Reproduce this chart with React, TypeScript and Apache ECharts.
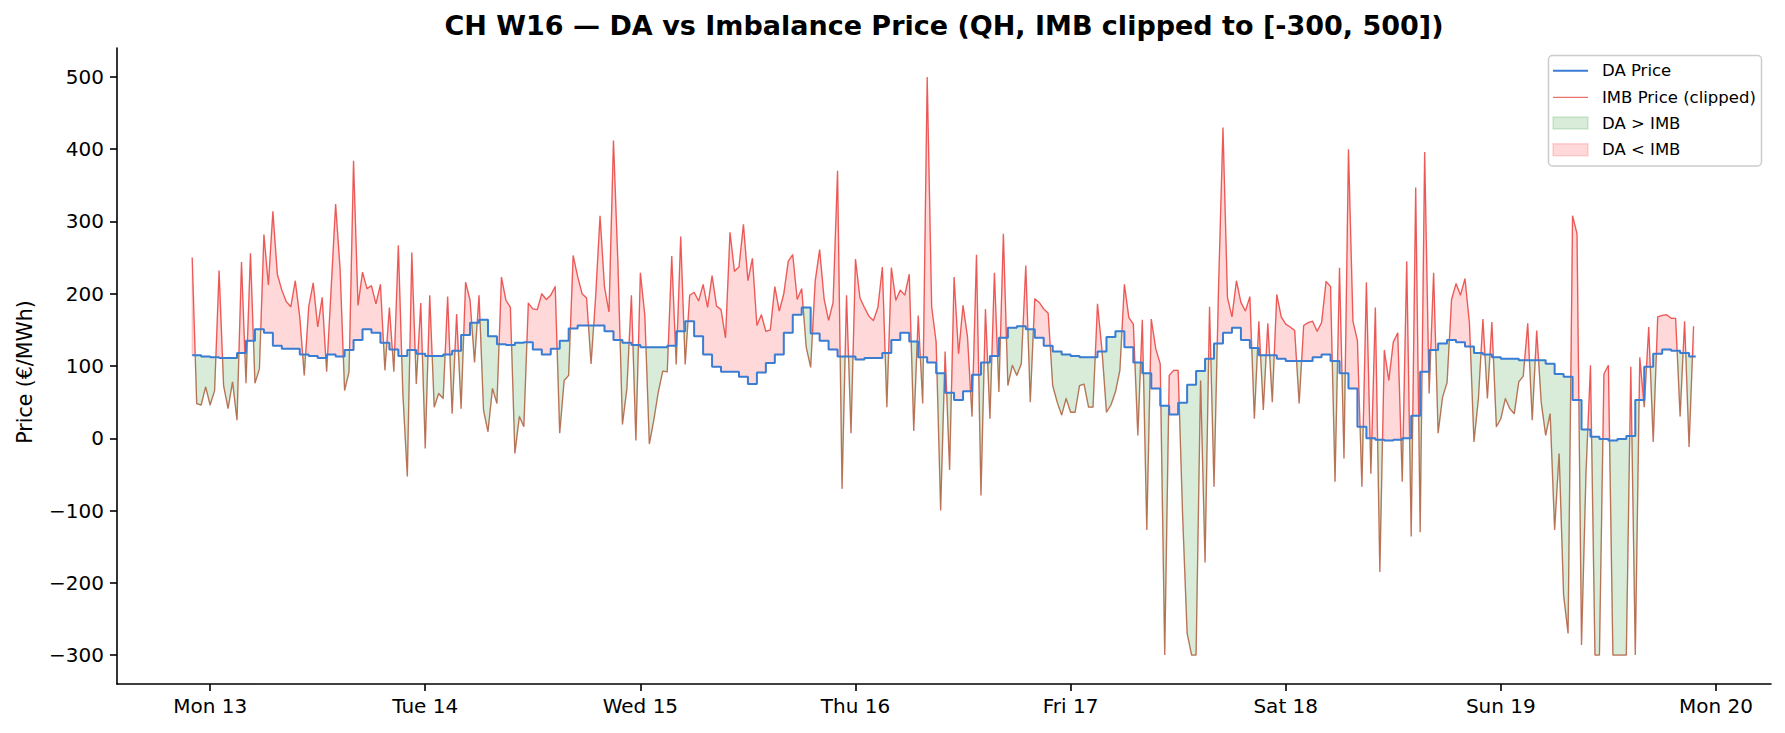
import React, { useEffect, useRef } from "react";
import * as echarts from "echarts";

const TITLE = "CH W16 — DA vs Imbalance Price (QH, IMB clipped to [-300, 500])";
const Y_LABEL = "Price (€/MWh)";
const X_TICK_HOURS = [0, 24, 48, 72, 96, 120, 144, 168];
const X_TICK_LABELS = ["Mon 13", "Tue 14", "Wed 15", "Thu 16", "Fri 17", "Sat 18", "Sun 19", "Mon 20"];
const Y_TICKS = [-300, -200, -100, 0, 100, 200, 300, 400, 500];
const LEGEND_LABELS = ["DA Price", "IMB Price (clipped)", "DA > IMB", "DA < IMB"];

// hours counted from Mon 13 00:00
const DA_START_H = -2;
const DA_END_H = 165.75;
// hourly day-ahead price, €/MWh
const DA_PRE = [115, 113];
const DA_MON = [112, 111, 111, 118, 135, 151, 146, 128, 124, 124, 116, 114, 111, 116, 113, 122, 136, 151, 146, 132, 123, 114, 122, 117];
const DA_TUE = [114, 114, 116, 121, 143, 160, 164, 141, 130, 129, 132, 133, 123, 116, 124, 135, 152, 156, 156, 156, 148, 136, 132, 129];
const DA_WED = [126, 126, 126, 128, 148, 162, 141, 116, 99, 92, 92, 85, 75, 91, 104, 116, 146, 171, 181, 145, 135, 123, 113, 113];
const DA_THU = [109, 111, 111, 118, 136, 146, 134, 112, 105, 90, 63, 53, 65, 88, 105, 114, 139, 153, 155, 151, 139, 128, 120, 116];
const DA_FRI = [114, 112, 112, 120, 140, 148, 126, 105, 90, 69, 45, 33, 49, 74, 93, 110, 131, 146, 153, 136, 125, 115, 115, 110];
const DA_SAT = [107, 107, 107, 112, 116, 107, 90, 69, 16, 0, -2, -3, -2, 0, 31, 92, 122, 131, 136, 133, 127, 118, 116, 112];
const DA_SUN = [110, 110, 108, 108, 108, 103, 89, 85, 53, 12, 2, -1, -3, -1, 3, 53, 99, 117, 123, 121, 118, 113];

// half-hourly imbalance price (clipped), €/MWh
const IMB_START_H = -2;
const IMB_STEP_H = 0.5;
const IMB_PRE = [250, 48, 46, 71];
const IMB_MON = [46, 66, 232, 73, 41, 78, 25, 244, 76, 256, 76, 96, 282, 212, 314, 227, 205, 189, 182, 218, 168, 87, 182, 215,
  154, 195, 92, 207, 324, 234, 66, 92, 384, 184, 230, 207, 211, 186, 213, 94, 181, 92, 267, 62, -53, 257, 75, 187];
const IMB_TUE = [-14, 198, 43, 62, 55, 196, 34, 172, 41, 216, 191, 105, 198, 39, 9, 69, 48, 223, 191, 181, -21, 30, 16, 187,
  179, 178, 200, 192, 198, 210, 7, 80, 87, 253, 224, 200, 194, 103, 194, 308, 209, 175, 412, 241, 19, 69, 198, -3];
const IMB_WED = [229, 170, -8, 25, 64, 93, 92, 252, 102, 279, 102, 198, 202, 190, 213, 181, 225, 183, 178, 139, 285, 231, 237, 296,
  218, 249, 156, 171, 148, 150, 210, 176, 200, 245, 254, 192, 207, 126, 98, 217, 261, 193, 163, 188, 370, -70, 198, 7];
const IMB_THU = [248, 194, 181, 169, 163, 181, 237, 43, 236, 191, 205, 198, 227, 10, 170, 48, 500, 182, 133, -100, 120, -44, 223, 117,
  184, 140, 30, 254, -79, 179, 27, 229, 64, 283, 73, 101, 87, 103, 239, 50, 193, 188, 179, 173, 73, 50, 32, 55];
const IMB_FRI = [36, 36, 73, 75, 43, 43, 186, 122, 36, 46, 64, 94, 213, 167, 158, 4, 164, -127, 165, 124, 103, -300, 87, 94,
  94, -109, -270, -300, -300, 80, -172, 182, -67, 207, 430, 195, 168, 218, 188, 176, 196, 27, 162, 39, 159, 50, 199, 168];
const IMB_SAT = [158, 154, 149, 48, 156, 160, 162, 148, 160, 217, 210, -60, 236, -28, 400, 162, 135, -67, 216, -49, 181, -185, 122, 80,
  133, 146, -60, 245, -136, 347, -130, 396, 62, 229, 7, 57, 77, 192, 214, 198, 221, 159, -5, 55, 165, 55, 161, 16];
const IMB_SUN = [27, 55, 41, 34, 78, 86, 159, 25, 149, 50, 4, 34, -127, -21, -217, -270, 308, 283, -286, -48, 101, -300, -300, 89,
  101, -300, -300, -300, -300, 99, -300, 112, 43, 154, -5, 168, 170, 171, 166, 166, 30, 162, -12, 155];

const DA_HOURLY = [...DA_PRE, ...DA_MON, ...DA_TUE, ...DA_WED, ...DA_THU, ...DA_FRI, ...DA_SAT, ...DA_SUN];
const IMB_HALFHOURLY = [...IMB_PRE, ...IMB_MON, ...IMB_TUE, ...IMB_WED, ...IMB_THU, ...IMB_FRI, ...IMB_SAT, ...IMB_SUN];

const X_MIN = -10.39;
const X_MAX = 174.14;
const Y_MIN = -340;
const Y_MAX = 540;

const DA_COLOR = "#3a7dd4";
const IMB_COLOR = "#e8726e";
const GREEN_FILL = "rgba(0,128,0,0.15)";
const RED_FILL = "rgba(255,0,0,0.15)";
const FONT = "DejaVu Sans";

type Sample = { t: number; da: number; imb: number };

function fillSamples(): Sample[] {
  const s: Sample[] = [];
  IMB_HALFHOURLY.forEach((imb, i) => {
    const t = IMB_START_H + i * IMB_STEP_H;
    const h = Math.floor(t);
    const idx = h - DA_START_H;
    if (i > 0 && t === h && idx > 0) s.push({ t, da: DA_HOURLY[idx - 1], imb });
    s.push({ t, da: DA_HOURLY[idx], imb });
  });
  return s;
}

function regions(samples: Sample[], sign: number): number[][][] {
  const polys: number[][][] = [];
  let upper: number[][] = [];
  let lower: number[][] = [];
  const d = (k: number) => (samples[k].da - samples[k].imb) * sign;
  const cross = (a: number, b: number) => {
    const va = d(a);
    const vb = d(b);
    const f = va / (va - vb);
    const A = samples[a];
    const B = samples[b];
    return [A.t + f * (B.t - A.t), A.da + f * (B.da - A.da)];
  };
  for (let k = 0; k < samples.length; k++) {
    const v = d(k);
    const S = samples[k];
    if (v > 0) {
      if (!upper.length && k > 0) {
        const c = cross(k - 1, k);
        upper.push(c);
        lower.push(c);
      }
      upper.push([S.t, sign > 0 ? S.da : S.imb]);
      lower.push([S.t, sign > 0 ? S.imb : S.da]);
    } else if (upper.length) {
      const c = cross(k - 1, k);
      upper.push(c);
      lower.push(c);
      polys.push(upper.concat(lower.reverse()));
      upper = [];
      lower = [];
    }
  }
  if (upper.length) polys.push(upper.concat(lower.reverse()));
  return polys;
}

function fmtY(v: number) {
  return v < 0 ? "\u2212" + Math.abs(v) : String(v);
}

function buildOption(): any {
  const daPairs = DA_HOURLY.map((v, i) => [DA_START_H + i, v]);
  daPairs.push([DA_END_H, DA_HOURLY[DA_HOURLY.length - 1]]);
  const imbPairs = IMB_HALFHOURLY.map((v, i) => [IMB_START_H + i * IMB_STEP_H, v]);
  const samples = fillSamples();
  const greenPolys = regions(samples, 1);
  const redPolys = regions(samples, -1);

  const legendRows = [70.7, 97.3, 123, 149.7];
  const hx1 = 1553;
  const hx2 = 1588;
  const tx = 1602;

  return {
    animation: false,
    backgroundColor: "#ffffff",
    grid: { left: 117, right: 14, top: 48, bottom: 49 },
    xAxis: {
      type: "value",
      min: X_MIN,
      max: X_MAX,
      axisLine: { show: true, onZero: false, lineStyle: { color: "#000", width: 1.6 } },
      axisTick: { show: true, customValues: X_TICK_HOURS, length: 7, lineStyle: { color: "#000", width: 1.6 } },
      axisLabel: {
        customValues: X_TICK_HOURS,
        formatter: (v: number) => X_TICK_LABELS[X_TICK_HOURS.indexOf(Math.round(v))] ?? "",
        margin: 12,
        fontSize: 20,
        fontFamily: FONT,
        color: "#000",
      },
      splitLine: { show: false },
    },
    yAxis: {
      type: "value",
      min: Y_MIN,
      max: Y_MAX,
      axisLine: { show: true, onZero: false, lineStyle: { color: "#000", width: 1.6 } },
      axisTick: { show: true, customValues: Y_TICKS, length: 7, lineStyle: { color: "#000", width: 1.6 } },
      axisLabel: {
        customValues: Y_TICKS,
        formatter: (v: number) => fmtY(v),
        margin: 13,
        fontSize: 20,
        fontFamily: FONT,
        color: "#000",
      },
      splitLine: { show: false },
    },
    series: [
      {
        name: "IMB Price (clipped)",
        type: "line",
        data: imbPairs,
        showSymbol: false,
        symbol: "none",
        lineStyle: { color: IMB_COLOR, width: 1.3 },
        z: 2,
        silent: true,
      },
      {
        name: "fill",
        type: "custom",
        silent: true,
        z: 3,
        data: [[IMB_START_H, DA_HOURLY[0]]],
        renderItem: (_params: any, api: any) => {
          const children: any[] = [];
          const add = (polys: number[][][], color: string) => {
            polys.forEach((poly) => {
              children.push({
                type: "polygon",
                shape: { points: poly.map((p) => api.coord(p)) },
                style: { fill: color, stroke: color, lineWidth: 1.5 },
              });
            });
          };
          add(greenPolys, GREEN_FILL);
          add(redPolys, RED_FILL);
          return { type: "group", children };
        },
      },
      {
        name: "DA Price",
        type: "line",
        step: "end",
        data: daPairs,
        showSymbol: false,
        symbol: "none",
        lineStyle: { color: DA_COLOR, width: 2 },
        z: 4,
        silent: true,
      },
    ],
    graphic: [
      {
        type: "text",
        x: 944,
        y: 25,
        style: { text: TITLE, fontSize: 27, fontWeight: "bold", fontFamily: FONT, fill: "#000", align: "center", verticalAlign: "middle" },
      },
      {
        type: "text",
        x: 25,
        y: 372,
        rotation: Math.PI / 2,
        style: { text: Y_LABEL, fontSize: 20.5, fontFamily: FONT, fill: "#000", align: "center", verticalAlign: "middle" },
      },
      {
        type: "rect",
        z: 100,
        shape: { x: 1548.5, y: 55.5, width: 213, height: 110.5, r: 4 },
        style: { fill: "rgba(255,255,255,0.8)", stroke: "#cccccc", lineWidth: 1.5 },
      },
      {
        type: "line",
        z: 101,
        shape: { x1: hx1, y1: legendRows[0], x2: hx2, y2: legendRows[0] },
        style: { stroke: DA_COLOR, lineWidth: 2 },
      },
      {
        type: "line",
        z: 101,
        shape: { x1: hx1, y1: legendRows[1], x2: hx2, y2: legendRows[1] },
        style: { stroke: IMB_COLOR, lineWidth: 1.2 },
      },
      {
        type: "rect",
        z: 101,
        shape: { x: hx1, y: legendRows[2] - 6, width: hx2 - hx1, height: 12 },
        style: { fill: GREEN_FILL, stroke: GREEN_FILL, lineWidth: 1.5 },
      },
      {
        type: "rect",
        z: 101,
        shape: { x: hx1, y: legendRows[3] - 6, width: hx2 - hx1, height: 12 },
        style: { fill: RED_FILL, stroke: RED_FILL, lineWidth: 1.5 },
      },
      ...LEGEND_LABELS.map((label, i) => ({
        type: "text",
        z: 101,
        x: tx,
        y: legendRows[i],
        style: { text: label, fontSize: 16.5, fontFamily: FONT, fill: "#000", align: "left", verticalAlign: "middle" },
      })),
    ],
  };
}

export default function App() {
  const ref = useRef<HTMLDivElement>(null);
  useEffect(() => {
    const el = ref.current;
    if (!el) return;
    const chart = echarts.init(el, null, { renderer: "svg" });
    chart.setOption(buildOption());
    return () => {
      chart.dispose();
    };
  }, []);
  return (
    <div
      ref={ref}
      style={{ position: "fixed", left: 0, top: 0, width: 1785, height: 733, background: "#ffffff" }}
    />
  );
}
